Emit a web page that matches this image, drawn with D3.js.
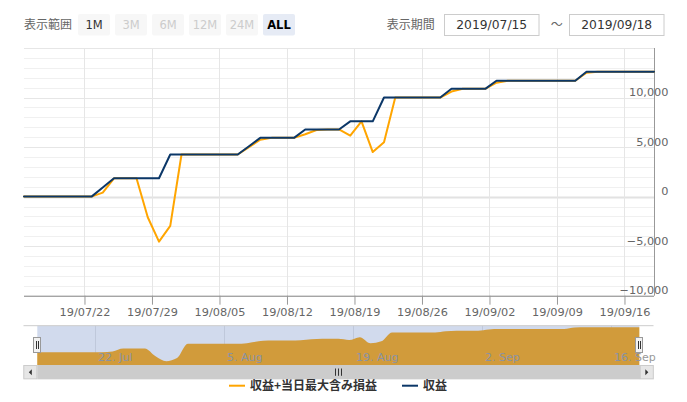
<!DOCTYPE html>
<html>
<head>
<meta charset="utf-8">
<script src="https://cdn.jsdelivr.net/npm/d3@7"></script>
<style>
  html, body { margin: 0; padding: 0; background: #fff; }
  svg { display: block; font-family: "DejaVu Sans", "Noto Sans CJK JP", sans-serif; }
  .cjk { font-family: "Noto Sans CJK JP", sans-serif; }
</style>
</head>
<body>
<svg id="chart" width="687" height="402"></svg>
<script>
// Trading days (JST dates, Mon–Sat)
const tradingDays = [
  "2019-07-16","2019-07-17","2019-07-18","2019-07-19","2019-07-20",
  "2019-07-22","2019-07-23","2019-07-24","2019-07-25","2019-07-26","2019-07-27",
  "2019-07-29","2019-07-30","2019-07-31","2019-08-01","2019-08-02","2019-08-03",
  "2019-08-05","2019-08-06","2019-08-07","2019-08-08","2019-08-09","2019-08-10",
  "2019-08-12","2019-08-13","2019-08-14","2019-08-15","2019-08-16","2019-08-17",
  "2019-08-19","2019-08-20","2019-08-21","2019-08-22","2019-08-23","2019-08-24",
  "2019-08-26","2019-08-27","2019-08-28","2019-08-29","2019-08-30","2019-08-31",
  "2019-09-02","2019-09-03","2019-09-04","2019-09-05","2019-09-06","2019-09-07",
  "2019-09-09","2019-09-10","2019-09-11","2019-09-12","2019-09-13","2019-09-14",
  "2019-09-16","2019-09-17","2019-09-18","2019-09-19"
];

// 収益+当日最大含み損益
const profitWithDrawdown = [
  0, 0, 0, 0, 0, 0, 0, 400, 1850, 1850, 1850,
  -2080, -4550, -2960, 4250, 4250, 4250, 4250, 4250, 4250,
  5000, 5750, 5930, 5930, 5930, 6300, 6720, 6780, 6780,
  6150, 7600, 4500, 5490, 10000, 10000, 10000, 10000, 10000,
  10600, 10880, 10880, 10880, 11500,
  11700, 11700, 11700, 11700, 11700, 11700, 11700,
  12500, 12600, 12600, 12600, 12600, 12600, 12600
];

// 収益
const profit = [
  0, 0, 0, 0, 0, 0, 0, 925, 1850, 1850, 1850,
  1850, 1850, 4250, 4250, 4250, 4250, 4250, 4250, 4250,
  5090, 5930, 5930, 5930, 5930, 6780, 6780, 6780, 6780,
  7600, 7600, 7600, 10000, 10000, 10000, 10000, 10000, 10000,
  10880, 10880, 10880, 10880, 11700,
  11700, 11700, 11700, 11700, 11700, 11700, 11700,
  12600, 12600, 12600, 12600, 12600, 12600, 12600
];

const seriesNames = ["収益+当日最大含み損益", "収益"];
const seriesColors = ["#ffa500", "#0b3768"];
const rangeButtons = ["1M", "3M", "6M", "12M", "24M", "ALL"];
const disabledButtons = ["3M", "6M", "12M", "24M"];
const selectedButton = "ALL";
const yTicks = [-10000, -5000, 0, 5000, 10000];
const yExtent = [-10000, 15000];

const svg = d3.select("#chart");
const times = tradingDays.map(d => new Date(d + "T00:00:00+09:00"));
const n = times.length;

// ---------- main plot ----------
const plot = { left: 24, right: 654, top: 48, bottom: 295.7 };

// ordinal-style time axis: every trading day gets equal width
const x = d3.scaleUtc()
  .domain(times)
  .range(times.map((t, i) => plot.left + i * (plot.right - plot.left) / (n - 1)));
const y = d3.scaleLinear().domain(yExtent).range([plot.bottom, plot.top]);

const weekTicks = d3.utcMonday.range(times[0], times[n - 1]);

// horizontal grid (minor every 1,000, major every 5,000)
const gridG = svg.append("g");
gridG.selectAll("line.minor")
  .data(d3.range(yExtent[0], yExtent[1] + 1, 1000).filter(v => v % 5000 !== 0))
  .join("line")
  .attr("x1", plot.left).attr("x2", plot.right)
  .attr("y1", d => Math.round(y(d)) + 0.5).attr("y2", d => Math.round(y(d)) + 0.5)
  .attr("stroke", "#f0f0f0");
gridG.selectAll("line.major")
  .data(d3.range(yExtent[0], yExtent[1] + 1, 5000))
  .join("line")
  .attr("x1", plot.left).attr("x2", plot.right)
  .attr("y1", d => Math.round(y(d)) + 0.5).attr("y2", d => Math.round(y(d)) + 0.5)
  .attr("stroke", d => d === 0 ? "#e2e2e2" : "#e6e6e6")
  .attr("stroke-width", d => d === 0 ? 2 : 1);

// vertical grid at weekly ticks
gridG.selectAll("line.vgrid")
  .data(weekTicks)
  .join("line")
  .attr("x1", d => Math.round(x(d)) + 0.5).attr("x2", d => Math.round(x(d)) + 0.5)
  .attr("y1", plot.top).attr("y2", plot.bottom)
  .attr("stroke", "#e6e6e6");

// x axis
const xAxis = svg.append("g")
  .attr("transform", `translate(0,${plot.bottom})`)
  .call(d3.axisBottom(x).tickValues(weekTicks).tickFormat(d3.utcFormat("%y/%m/%d")).tickSize(9).tickSizeOuter(0).tickPadding(3));
xAxis.select(".domain").attr("stroke", "#888").attr("d", `M${plot.left},0.5H${plot.right}`);
xAxis.selectAll(".tick line").attr("stroke", "#999");
xAxis.selectAll(".tick text").attr("fill", "#666").attr("font-size", 11.3).attr("font-family", "DejaVu Sans");

// y axis line
svg.append("line")
  .attr("x1", plot.right + 0.5).attr("x2", plot.right + 0.5)
  .attr("y1", plot.top).attr("y2", plot.bottom)
  .attr("stroke", "#999");

// y labels (right aligned, sitting just above their gridline)
const yAxis = svg.append("g")
  .attr("transform", "translate(668.5,0)")
  .call(d3.axisLeft(y).tickValues(yTicks).tickFormat(d3.format(",")).tickSize(0).tickPadding(0));
yAxis.select(".domain").remove();
yAxis.selectAll(".tick text").attr("fill", "#666").attr("font-size", 11.3).attr("y", -5.5).attr("font-family", "DejaVu Sans");

// series lines
const line = d3.line().x((d, i) => x(times[i])).y(d => y(d));
[profitWithDrawdown, profit].forEach((s, k) => {
  svg.append("path")
    .datum(s)
    .attr("d", line)
    .attr("fill", "none")
    .attr("stroke", seriesColors[k])
    .attr("stroke-width", 2)
    .attr("stroke-linejoin", "round")
    .attr("stroke-linecap", "round");
});

// ---------- navigator ----------
const nav = { left: 37.3, right: 639.3, top: 325.7, bottom: 365 };
const xNav = d3.scaleUtc()
  .domain(times)
  .range(times.map((t, i) => nav.left + i * (nav.right - nav.left) / (n - 1)));
const ext = d3.extent(profitWithDrawdown);
const span = ext[1] - ext[0];
const yNav = d3.scaleLinear()
  .domain([ext[0] - 0.112 * span, ext[1] + 0.047 * span])
  .range([nav.bottom, nav.top]);

const navTicks = weekTicks.filter((d, i) => i % 2 === 0);
svg.append("g").selectAll("line")
  .data(navTicks)
  .join("line")
  .attr("x1", d => Math.round(xNav(d)) + 0.5).attr("x2", d => Math.round(xNav(d)) + 0.5)
  .attr("y1", nav.top).attr("y2", nav.bottom)
  .attr("stroke", "#e6e6e6");

const area = d3.area()
  .curve(d3.curveMonotoneX)
  .x((d, i) => xNav(times[i]))
  .y0(nav.bottom)
  .y1(d => yNav(d));
svg.append("path")
  .datum(profitWithDrawdown)
  .attr("d", area)
  .attr("fill", seriesColors[0]);

svg.append("g").selectAll("text")
  .data(navTicks)
  .join("text")
  .attr("x", d => xNav(d) + 3)
  .attr("y", 361)
  .attr("font-size", 11)
  .attr("fill", "#999")
  .text(d3.utcFormat("%-d. %b"));

// selected-range mask
svg.append("rect")
  .attr("x", nav.left).attr("y", nav.top)
  .attr("width", nav.right - nav.left).attr("height", nav.bottom - nav.top)
  .attr("fill", "rgba(102,133,194,0.3)");

// outline
svg.append("path")
  .attr("d", `M23.5,${nav.top}H653.5`)
  .attr("stroke", "#cccccc").attr("fill", "none");

// scrollbar
const sb = { top: 365, h: 14.3, left: 23.3, right: 653.8, btn: 14 };
svg.append("rect").attr("x", sb.left).attr("y", sb.top).attr("width", sb.right - sb.left).attr("height", sb.h)
  .attr("fill", "#f2f2f2");
svg.append("rect").attr("x", nav.left).attr("y", sb.top).attr("width", nav.right - nav.left + 0.7).attr("height", sb.h)
  .attr("fill", "#cccccc");
[[sb.left, -1], [sb.right - sb.btn, 1]].forEach(([bx, dir]) => {
  svg.append("rect").attr("x", bx + 0.5).attr("y", sb.top + 0.5).attr("width", sb.btn - 1).attr("height", sb.h - 1)
    .attr("fill", "#e6e6e6").attr("stroke", "#cccccc");
  const cx = bx + sb.btn / 2, cy = sb.top + sb.h / 2;
  svg.append("path")
    .attr("d", `M${cx - dir * 1.5},${cy - 3}L${cx + dir * 1.5},${cy}L${cx - dir * 1.5},${cy + 3}Z`)
    .attr("fill", "#333");
});
const rx = (nav.left + nav.right) / 2;
[-3, 0, 3].forEach(dx => {
  svg.append("line").attr("x1", Math.round(rx + dx) + 0.5).attr("x2", Math.round(rx + dx) + 0.5)
    .attr("y1", sb.top + 3.5).attr("y2", sb.top + sb.h - 3.5)
    .attr("stroke", "#333");
});

// handles
[nav.left, nav.right].forEach(hx => {
  const g = svg.append("g").attr("transform", `translate(${Math.round(hx)},337)`);
  g.append("rect").attr("x", -3.5).attr("y", 0.5).attr("width", 7).attr("height", 15)
    .attr("fill", "#f2f2f2").attr("stroke", "#999");
  [-1, 1].forEach(dx => g.append("line").attr("x1", dx + 0.5).attr("x2", dx + 0.5).attr("y1", 4).attr("y2", 12).attr("stroke", "#333"));
});

// ---------- legend ----------
const legendItems = [{ x: 229, i: 0 }, { x: 402, i: 1 }];
legendItems.forEach(({ x: lx, i }) => {
  svg.append("line").attr("x1", lx).attr("x2", lx + 16).attr("y1", 385.7).attr("y2", 385.7)
    .attr("stroke", seriesColors[i]).attr("stroke-width", 2);
  svg.append("text").attr("class", "cjk").attr("x", lx + 21).attr("y", 390)
    .attr("font-size", 12).attr("font-weight", "bold").attr("fill", "#333")
    .text(seriesNames[i]);
});

// ---------- range selector ----------
svg.append("text").attr("class", "cjk").attr("x", 24).attr("y", 29)
  .attr("font-size", 12).attr("fill", "#666").text("表示範囲");
const btn = svg.append("g").selectAll("g").data(rangeButtons).join("g")
  .attr("transform", (d, i) => `translate(${78 + i * 37},14)`);
btn.append("rect").attr("width", 32).attr("height", 21.5).attr("rx", 2)
  .attr("fill", d => d === selectedButton ? "#e6ebf5" : "#f7f7f7");
btn.append("text").attr("x", 16).attr("y", 14.6).attr("text-anchor", "middle")
  .attr("font-size", 11.5)
  .attr("font-weight", d => d === selectedButton ? "bold" : "normal")
  .attr("fill", d => d === selectedButton ? "#000" : (disabledButtons.includes(d) ? "#cccccc" : "#333"))
  .text(d => d);

svg.append("text").attr("class", "cjk").attr("x", 386.7).attr("y", 29)
  .attr("font-size", 12).attr("fill", "#666").text("表示期間");
const fmtInput = d3.utcFormat("%Y/%m/%d");
[[444.5, times[0]], [569.5, times[n - 1]]].forEach(([bx, t]) => {
  svg.append("rect").attr("x", bx).attr("y", 14.5).attr("width", 94.5).attr("height", 21)
    .attr("fill", "#fff").attr("stroke", "#cccccc");
  svg.append("text").attr("x", bx + 47.25).attr("y", 29.3).attr("text-anchor", "middle")
    .attr("font-size", 12.3).attr("fill", "#333").text(fmtInput(t));
});
svg.append("text").attr("class", "cjk").attr("x", 556.7).attr("y", 29).attr("text-anchor", "middle")
  .attr("font-size", 12).attr("fill", "#666").text("〜");
</script>
</body>
</html>
